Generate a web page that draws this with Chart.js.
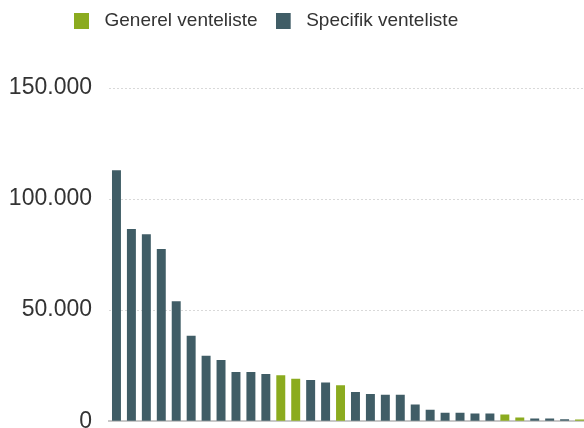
<!DOCTYPE html>
<html>
<head>
<meta charset="utf-8">
<script src="https://cdn.jsdelivr.net/npm/chart.js@4/dist/chart.umd.min.js"></script>
<style>
  html, body { margin: 0; padding: 0; background: #fff; overflow: hidden; }
  /* diagrammet er beskåret forneden, som i originalen */
  #wrap { width: 587px; height: 428px; overflow: hidden; }
</style>
</head>
<body>
<div id="wrap"><canvas id="chart" width="587" height="452"></canvas></div>
<script>
// kategorier (aksetekster er skåret væk i billedet)
const labels = ["1", "2", "3", "4", "5", "6", "7", "8", "9", "10", "11", "12", "13", "14", "15", "16",
    "17", "18", "19", "20", "21", "22", "23", "24", "25", "26", "27", "28", "29", "30", "31", "32"];

// Generel venteliste (grøn)
const generel = [null, null, null, null, null, null, null, null, null, null, null, 20700, 19100, null, null, 16200,
    null, null, null, null, null, null, null, null, null, null, 3000, 1650, null, null, null, 750];

// Specifik venteliste (mørk)
const specifik = [113000, 86500, 84200, 77500, 54000, 38500, 29500, 27500, 22100, 22100, 21200, null, null, 18500, 17400, null,
    13100, 12300, 11900, 11900, 7500, 5100, 3800, 3800, 3450, 3450, null, null, 1200, 1200, 900, null];

const yTicks = [0, 50000, 100000, 150000];

const GREEN = "#8bab1f";
const SLATE = "#405d66";
const FONT = "'Liberation Sans', Arial, sans-serif";

// lille firkant til legenden, med luft til højre
function legendSwatch(color) {
    const c = document.createElement('canvas');
    c.width = 21;
    c.height = 16;
    const g = c.getContext('2d');
    g.fillStyle = color;
    g.fillRect(0, 0, 15, 16);
    return c;
}
const swatches = [legendSwatch(GREEN), legendSwatch(SLATE)];

function fmt(v) {
    return String(v).replace(/\B(?=(\d{3})+(?!\d))/g, ".");
}

// legenden flyttes lidt og får ekstra højde, så plottet starter lavere
const legendNudge = {
    id: 'legendNudge',
    beforeInit(chart) {
        const fit = chart.legend.fit;
        chart.legend.fit = function () {
            fit.call(this);
            this.height = 88;
        };
    },
    afterLayout(chart) {
        const lg = chart.legend;
        const pad = lg.options.labels.padding;
        const startX = (lg.left + pad + lg.right - lg.lineWidths[0]) / 2;
        const dx = 74 - startX;
        lg.left += dx;
        lg.right += dx;
        lg.top -= 7;
    }
};

new Chart(document.getElementById('chart'), {
    type: 'bar',
    data: {
        labels: labels,
        datasets: [
            { label: "Generel venteliste", data: generel, backgroundColor: GREEN },
            { label: "Specifik venteliste", data: specifik, backgroundColor: SLATE }
        ]
    },
    options: {
        responsive: false,
        animation: false,
        layout: { padding: { top: 0, bottom: 7, left: 0, right: 0 } },
        datasets: { bar: { barPercentage: 0.6, categoryPercentage: 1.0 } },
        plugins: {
            tooltip: { enabled: false },
            legend: {
                position: 'top',
                labels: {
                    color: "#333",
                    font: { family: FONT, size: 19 },
                    padding: 18,
                    boxHeight: 16,
                    usePointStyle: true,
                    pointStyleWidth: 21,
                    generateLabels(chart) {
                        const items = Chart.defaults.plugins.legend.labels.generateLabels(chart);
                        items.forEach((it, i) => { it.pointStyle = swatches[i]; });
                        return items;
                    }
                }
            }
        },
        scales: {
            x: {
                stacked: true,
                grid: { display: false },
                ticks: { display: false },
                border: { display: true, color: "#c8c8c8", width: 2 }
            },
            y: {
                stacked: true,
                min: 0,
                max: 150000,
                afterBuildTicks(scale) {
                    scale.ticks = yTicks.map(v => ({ value: v }));
                },
                afterFit(scale) {
                    scale.width = 109;
                },
                ticks: {
                    color: "#333",
                    padding: 17,
                    font: { family: FONT, size: 23 },
                    callback: v => fmt(v)
                },
                grid: { color: "#d9d9d9", drawTicks: false, lineWidth: 1 },
                border: { display: false, dash: [2, 2] }
            }
        }
    },
    plugins: [legendNudge]
});
</script>
</body>
</html>
